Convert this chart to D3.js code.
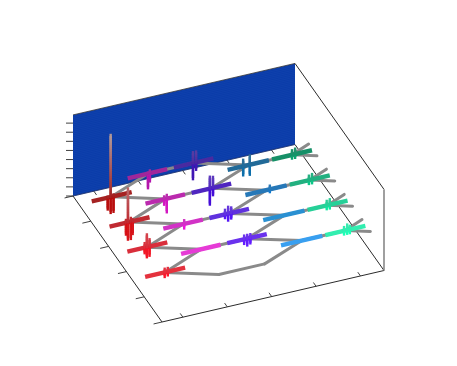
<!DOCTYPE html>
<html>
<head>
<meta charset="utf-8">
<script src="https://cdn.jsdelivr.net/npm/d3@7"></script>
<style>
    html, body { margin: 0; padding: 0; background: #fff; }
    svg { display: block; }
</style>
</head>
<body>
<div id="chart"></div>
<script>
// Axis limits and ticks of the 3D box
const xLimits = [0, 5];
const yLimits = [0, 5];
const zTop = 8.9;
const xTicks = [0.47, 1.47, 2.47, 3.47, 4.47];
const yTicks = [0, 1, 2, 3, 4, 5];
const zTicks = [0, 1, 2, 3, 4, 5, 6, 7, 8];

// Strips along x, one group per colour, rows go front to back
const stripRanges = [[0.29, 1.19], [1.30, 2.19], [2.34, 3.23], [3.35, 4.28], [4.35, 5.25]];
const stripY = [[1.67, 2.67, 3.67, 4.67], [2.17, 3.17, 4.17, 5.17], [2.17, 3.17, 4.17, 5.17],
    [1.67, 2.67, 3.67, 4.67], [1.67, 2.67, 3.67, 4.67]];
const stripColors = [
    ["#e4303e", "#d92f3a", "#c02a30", "#a52222"],
    ["#e63ad6", "#d232c6", "#bb2cae", "#a0289a"],
    ["#6a30ee", "#6030de", "#5028c0", "#4a2aa0"],
    ["#389ff0", "#2a90d2", "#2878b8", "#206a98"],
    ["#30eeb0", "#28d098", "#20b080", "#189068"]
];

// Grey tree edges: [x0, y0, x1, y1]
const treeEdges = [
    [0.73, 1.67, 1.75, 1.17], [1.75, 1.17, 2.78, 1.17], [2.78, 1.17, 3.82, 1.67],
    [0.73, 1.67, 1.75, 2.17], [0.73, 2.67, 1.75, 2.17], [1.75, 2.17, 2.78, 2.17], [2.78, 2.17, 3.82, 1.67], [2.78, 2.17, 3.82, 2.67],
    [0.73, 2.67, 1.75, 3.17], [0.73, 3.67, 1.75, 3.17], [1.75, 3.17, 2.78, 3.17], [2.78, 3.17, 3.82, 2.67], [2.78, 3.17, 3.82, 3.67],
    [0.73, 3.67, 1.75, 4.17], [0.73, 4.67, 1.75, 4.17], [1.75, 4.17, 2.78, 4.17], [2.78, 4.17, 3.82, 3.67], [2.78, 4.17, 3.82, 4.67],
    [0.73, 4.67, 1.75, 5.17], [1.75, 5.17, 2.78, 5.17], [2.78, 5.17, 3.82, 4.67],
    [3.82, 1.67, 4.80, 1.67], [3.82, 2.67, 4.80, 2.67], [3.82, 3.67, 4.80, 3.67], [3.82, 4.67, 4.80, 4.67],
    [4.80, 1.67, 5.27, 1.44], [4.80, 1.67, 5.27, 1.91], [4.80, 2.67, 5.27, 2.44], [4.80, 2.67, 5.27, 2.91],
    [4.80, 3.67, 5.27, 3.44], [4.80, 3.67, 5.27, 3.91], [4.80, 4.67, 5.27, 4.44], [4.80, 4.67, 5.27, 4.91]
];

// Spikes: [group, row, x, up, down]
const spikes = [
    [0, 3, 0.65, 0.1, 1.3], [0, 3, 0.716, 6.8, 1.75], [0, 3, 0.78, 0.2, 1.7],
    [0, 2, 0.66, 0.3, 1.3], [0, 2, 0.705, 3.7, 1.9], [0, 2, 0.77, 0.4, 1.9], [0, 2, 0.81, 0.2, 1.4],
    [0, 1, 0.68, 0.5, 0.6], [0, 1, 0.73, 1.4, 1.1], [0, 1, 0.79, 0.8, 1.0],
    [0, 0, 0.73, 0.4, 0.5], [0, 0, 0.80, 0.4, 0.4],
    [1, 3, 1.757, 0.1, 1.6], [1, 3, 1.80, 0.3, 0.9],
    [1, 2, 1.72, 0.3, 0.6], [1, 2, 1.78, 0.4, 1.5],
    [1, 1, 1.77, 0.4, 0.5],
    [2, 3, 2.77, 1.2, 1.75], [2, 3, 2.84, 1.2, 0.8],
    [2, 2, 2.75, 1.3, 1.75], [2, 2, 2.82, 1.2, 0.8],
    [2, 1, 2.69, 0.5, 0.4], [2, 1, 2.76, 0.75, 0.75], [2, 1, 2.83, 0.6, 0.6],
    [2, 0, 2.72, 0.4, 0.5], [2, 0, 2.79, 0.4, 0.75], [2, 0, 2.86, 0.4, 0.6],
    [3, 3, 3.70, 0.7, 1.0], [3, 3, 3.85, 1.0, 1.1],
    [3, 2, 3.90, 0.4, 0.3],
    [4, 3, 4.80, 0.5, 0.4], [4, 3, 4.87, 0.6, 0.4],
    [4, 2, 4.78, 0.5, 0.4], [4, 2, 4.85, 0.6, 0.4],
    [4, 1, 4.78, 0.5, 0.4], [4, 1, 4.85, 0.6, 0.4],
    [4, 0, 4.77, 0.4, 0.4], [4, 0, 4.84, 0.6, 0.4], [4, 0, 4.90, 0.4, 0.4]
];

const width = 457;
const height = 366;
const origin = [162, 322];

// Fixed view of the box: each data axis moves the screen point along its own direction
const xToPx = d3.scaleLinear().domain(xLimits).range([0, 222]);
const xToPy = d3.scaleLinear().domain(xLimits).range([0, -51.5]);
const yToPx = d3.scaleLinear().domain(yLimits).range([0, -89]);
const yToPy = d3.scaleLinear().domain(yLimits).range([0, -126]);
const zToPy = d3.scaleLinear().domain([0, 9]).range([0, -82]);

function project(x, y, z) {
    return [origin[0] + xToPx(x) + yToPx(y), origin[1] + xToPy(x) + yToPy(y) + zToPy(z)];
}

const svg = d3.select("#chart")
    .append("svg")
    .attr("width", width)
    .attr("height", height)
    .attr("viewBox", "0 0 " + width + " " + height);

// The reference is slightly soft, a small blur gets the marks closer
svg.append("defs").append("filter")
    .attr("id", "soft")
    .append("feGaussianBlur")
    .attr("stdDeviation", 0.4);

const line3d = d3.line();

function edge(group, a, b, color, strokeWidth) {
    return group.append("path")
        .attr("d", line3d([project(...a), project(...b)]))
        .attr("fill", "none")
        .attr("stroke", color)
        .attr("stroke-width", strokeWidth);
}

// Wall at the back, a fine mesh on a flat blue
const wall = svg.append("g");
wall.append("path")
    .attr("d", line3d([project(0, 5, 0), project(5, 5, 0), project(5, 5, zTop), project(0, 5, zTop)]) + "Z")
    .attr("fill", "#0a3ca9");
d3.range(0, zTop, 0.2).forEach(z => {
    edge(wall, [0, 5, z], [5, 5, z], "#1c4cb4", 0.3);
});
edge(wall, [0, 5, zTop], [5, 5, zTop], "#333", 0.8);

// Box lines and ticks
const axes = svg.append("g");
const axisColor = "#2b2b2b";
edge(axes, [0, 5, 0], [5, 5, 0], "#1d2f66", 0.8);
edge(axes, [0, 0, 0], [0, 5, 0], axisColor, 1);
edge(axes, [0, 0, 0], [5, 0, 0], axisColor, 1);
edge(axes, [5, 0, 0], [5, 5, 0], axisColor, 1);
edge(axes, [5, 5, zTop], [5, 0, zTop], axisColor, 1);
edge(axes, [5, 0, 0], [5, 0, zTop], "#888", 1.6);

xTicks.forEach(x => {
    edge(axes, [x, 0, 0], [x, 0.15, 0], axisColor, 0.9);
    edge(axes, [x, 5, 0], [x, 4.85, 0], axisColor, 0.9);
});
yTicks.forEach(y => {
    edge(axes, [0, y, 0], [-0.19, y, 0], axisColor, 0.9);
});
zTicks.forEach(z => {
    const p = project(0, 5, z);
    axes.append("line")
        .attr("x1", p[0] - 7).attr("x2", p[0])
        .attr("y1", p[1]).attr("y2", p[1])
        .attr("stroke", axisColor)
        .attr("stroke-width", 0.9);
});

// Tree under the strips
const tree = svg.append("g").attr("filter", "url(#soft)");
treeEdges.forEach(d => {
    edge(tree, [d[0], d[1], 0], [d[2], d[3], 0], "#8a8a8a", 3)
        .attr("stroke-linecap", "round");
});

// Colour follows height: tall spikes fade to grey at the top
const fade = d3.scaleLinear().domain([0, 6.8]).range([0, 0.85]).clamp(true);

function drawSpike(group, x, y, from, to, color) {
    const steps = Math.max(2, Math.ceil(Math.abs(to - from) * 4));
    d3.range(steps).forEach(i => {
        const z0 = from + (to - from) * i / steps;
        const z1 = from + (to - from) * (i + 1) / steps;
        edge(group, [x, y, z0], [x, y, z1], d3.interpolateRgb(color, "#b4b0b0")(fade(Math.max(z0, 0))), 2.4)
            .attr("stroke-linecap", "square");
    });
}

// Below the floor the colour gets more saturated
function deepen(color) {
    const c = d3.hsl(color);
    c.s = Math.min(1, c.s + 0.2);
    return c.formatHex();
}

// Back rows first so the front rows sit on top
const marks = svg.append("g").attr("filter", "url(#soft)");
d3.range(3, -1, -1).forEach(row => {
    stripRanges.forEach((range, group) => {
        const y = stripY[group][row];
        const color = stripColors[group][row];
        edge(marks, [range[0], y, 0], [range[1], y, 0], color, 4.4);
        spikes.filter(s => s[0] === group && s[1] === row).forEach(s => {
            drawSpike(marks, s[2], y, 0, -s[4], deepen(color));
            drawSpike(marks, s[2], y, 0, s[3], color);
        });
    });
});
</script>
</body>
</html>
